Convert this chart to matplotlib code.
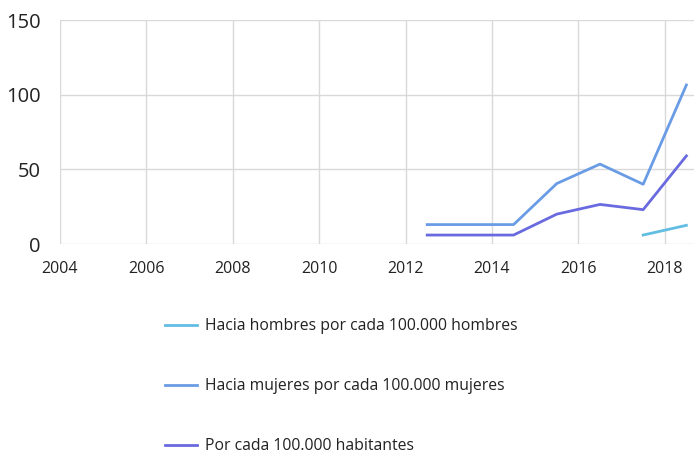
import matplotlib
matplotlib.use("Agg")
import matplotlib.pyplot as plt
from matplotlib.lines import Line2D

plt.rcParams['font.family'] = ['Open Sans', 'DejaVu Sans']

# data (mid-year points)
years_all = [2012.5, 2013.5, 2014.5, 2015.5, 2016.5, 2017.5, 2018.5]
years_men = [2017.5, 2018.5]
men = [6, 12.5]
women = [13, 13, 13, 40.5, 53.5, 40, 106.5]
total = [6, 6, 6, 20, 26.5, 23, 59]

labels = ["Hacia hombres por cada 100.000 hombres",
          "Hacia mujeres por cada 100.000 mujeres",
          "Por cada 100.000 habitantes"]
colors = ["#62bde3", "#6a9ce6", "#6a6ae0"]
xticks = [2004, 2006, 2008, 2010, 2012, 2014, 2016, 2018]
yticks = [0, 50, 100, 150]

fig = plt.figure(figsize=(6.95, 4.53), dpi=100)
ax = fig.add_axes([60 / 695, 1 - 244 / 453, 634 / 695, 224 / 453])

ax.plot(years_men, men, color=colors[0], lw=2)
ax.plot(years_all, women, color=colors[1], lw=2)
ax.plot(years_all, total, color=colors[2], lw=2)

ax.set_xlim(2004, 2004 + 634 / 43.2)
ax.set_ylim(0, 150)
ax.set_xticks(xticks)
ax.set_yticks(yticks)
ax.tick_params(axis='both', length=0, colors='#222222')
ax.tick_params(axis='x', labelsize=11.5, pad=12)
ax.tick_params(axis='y', labelsize=14.5, pad=14)
ax.grid(True, color='#d9d9d9', lw=1)
ax.set_axisbelow(True)
for s in ax.spines.values():
    s.set_visible(False)

handles = [Line2D([0], [0], color=c, lw=2) for c in colors]
fig.legend(handles, labels, loc='upper left',
           bbox_to_anchor=(151 / 695, 1 - 304 / 453),
           frameon=False, fontsize=11.3, labelspacing=2.8,
           handlelength=2.0, handletextpad=0.55, labelcolor='#222222')

fig.savefig("out.png", dpi=100)
